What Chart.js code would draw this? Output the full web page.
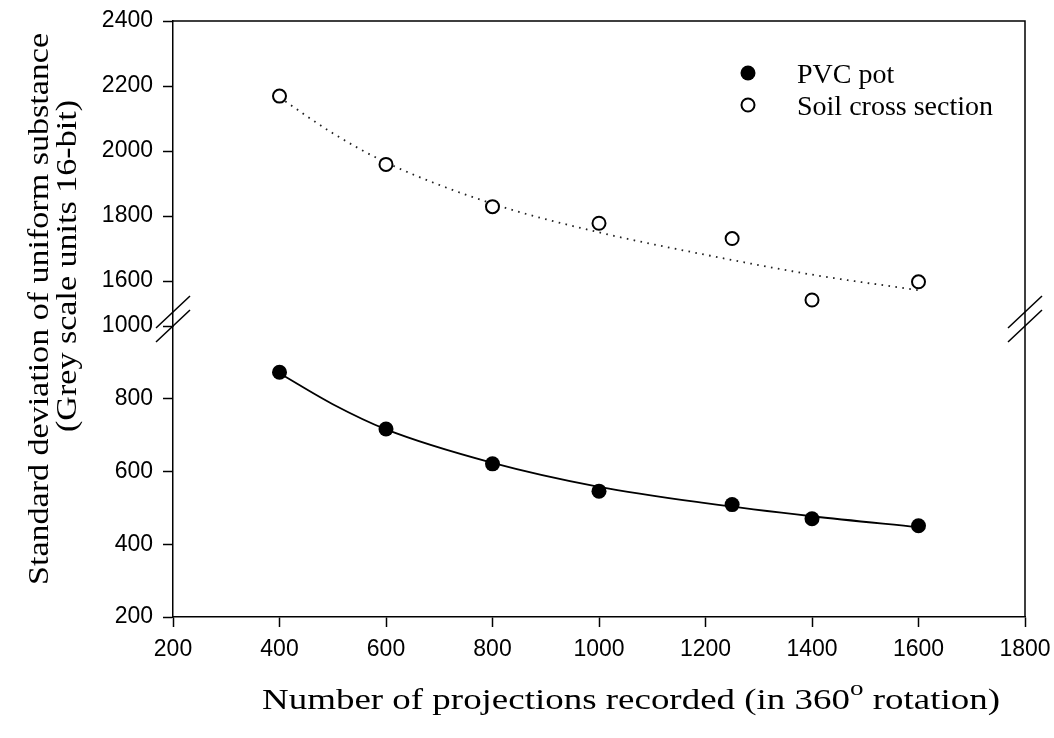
<!DOCTYPE html>
<html>
<head>
<meta charset="utf-8">
<script src="https://cdn.jsdelivr.net/npm/chart.js@4"></script>
<style>
  html, body { margin: 0; padding: 0; background: #fff; }
  #wrap { width: 1054px; height: 738px; }
</style>
</head>
<body>
<div id="wrap"><canvas id="chart" width="1054" height="738"></canvas></div>
<script>
// measured points
const projections = [400, 600, 800, 1000, 1250, 1400, 1600];
const pvcPot = [873, 717, 621, 546, 509, 470, 451];
const soilSection = [2169, 1959, 1829, 1778, 1731, 1542, 1598];

// fitted curves
const fitX = [400, 500, 600, 800, 1000, 1200, 1400, 1600];
const pvcFit = [870, 785, 716, 624, 558, 513, 477, 447];
const soilFit = [2165, 2055, 1965, 1838, 1750, 1681, 1620, 1572];

// axis ranges
const xTicks = [200, 400, 600, 800, 1000, 1200, 1400, 1600, 1800];
const lowTicks = [200, 400, 600, 800, 1000];
const highTicks = [1600, 1800, 2000, 2200, 2400];
const highMin = 1462;

const seriesNames = ['PVC pot', 'Soil cross section'];
const xTitle = ['Number of projections recorded (in 360', 'o', ' rotation)'];
const yTitle = ['Standard deviation of uniform substance', '(Grey scale units 16-bit)'];

const pairs = (xs, ys) => xs.map((x, i) => ({x: x, y: ys[i]}));

const serif = '"Liberation Serif", "Times New Roman", serif';
const sans = '"Liberation Sans", Arial, sans-serif';

function stretchText(ctx, text, x, y, width, align) {
    const w = ctx.measureText(text).width;
    ctx.save();
    ctx.translate(x, y);
    ctx.scale(width / w, 1);
    ctx.textAlign = align || 'center';
    ctx.fillText(text, 0, 0);
    ctx.restore();
}

const decor = {
    id: 'decor',
    afterDraw(chart) {
        const {ctx, chartArea: a, scales} = chart;
        const yb = scales.yLow.top;
        ctx.save();
        ctx.strokeStyle = '#000';
        ctx.lineWidth = 1.5;

        // top and right side of the frame
        ctx.beginPath();
        ctx.moveTo(a.left, a.top);
        ctx.lineTo(a.right, a.top);
        ctx.lineTo(a.right, a.bottom);
        ctx.stroke();

        // axis break marks
        [a.left, a.right].forEach(x => {
            [-14, 0].forEach(dy => {
                ctx.beginPath();
                ctx.moveTo(x - 17, yb + dy + 16);
                ctx.lineTo(x + 17, yb + dy - 16);
                ctx.stroke();
            });
        });

        // legend
        ctx.fillStyle = '#000';
        ctx.beginPath();
        ctx.arc(748, 73, 7.5, 0, Math.PI * 2);
        ctx.fill();
        ctx.beginPath();
        ctx.lineWidth = 2;
        ctx.arc(748, 105, 6.5, 0, Math.PI * 2);
        ctx.stroke();
        ctx.font = '28px ' + serif;
        ctx.textAlign = 'left';
        ctx.textBaseline = 'alphabetic';
        ctx.fillText(seriesNames[0], 797, 83);
        ctx.fillText(seriesNames[1], 797, 115);

        // x title with superscript
        const mainFont = '30px ' + serif;
        const supFont = '22px ' + serif;
        ctx.font = mainFont;
        const w0 = ctx.measureText(xTitle[0]).width;
        const w2 = ctx.measureText(xTitle[2]).width;
        ctx.font = supFont;
        const w1 = ctx.measureText(xTitle[1]).width;
        const total = w0 + w1 + w2;
        const sx = 738 / total;
        ctx.save();
        ctx.translate(262, 709);
        ctx.scale(sx, 1);
        ctx.font = mainFont;
        ctx.fillText(xTitle[0], 0, 0);
        ctx.font = supFont;
        ctx.fillText(xTitle[1], w0, -14);
        ctx.font = mainFont;
        ctx.fillText(xTitle[2], w0 + w1, 0);
        ctx.restore();

        // y title, two lines
        ctx.save();
        ctx.rotate(-Math.PI / 2);
        ctx.font = '30px ' + serif;
        ctx.textBaseline = 'alphabetic';
        stretchText(ctx, yTitle[0], -309, 48, 552);
        stretchText(ctx, yTitle[1], -266, 76, 332);
        ctx.restore();

        ctx.restore();
    }
};

const axisFont = {family: sans, size: 23};

function noPad(s) {
    s.paddingLeft = 0;
    s.paddingRight = 0;
    s.paddingTop = 0;
    s.paddingBottom = 0;
}

new Chart(document.getElementById('chart'), {
    type: 'scatter',
    data: {
        datasets: [
            {
                label: seriesNames[0],
                data: pairs(projections, pvcPot),
                yAxisID: 'yLow',
                showLine: false,
                pointRadius: 7.5,
                pointBackgroundColor: '#000',
                pointBorderColor: '#000',
                pointBorderWidth: 0,
                order: 1
            },
            {
                label: seriesNames[1],
                data: pairs(projections, soilSection),
                yAxisID: 'yHigh',
                showLine: false,
                pointRadius: 6.5,
                pointBackgroundColor: '#fff',
                pointBorderColor: '#000',
                pointBorderWidth: 2,
                order: 2
            },
            {
                label: 'PVC fit',
                data: pairs(fitX, pvcFit),
                yAxisID: 'yLow',
                showLine: true,
                pointRadius: 0,
                borderColor: '#000',
                borderWidth: 1.8,
                cubicInterpolationMode: 'monotone',
                order: 3
            },
            {
                label: 'Soil fit',
                data: pairs(fitX, soilFit),
                yAxisID: 'yHigh',
                showLine: true,
                pointRadius: 0,
                borderColor: '#222',
                borderWidth: 1.8,
                borderDash: [1.6, 5.4],
                cubicInterpolationMode: 'monotone',
                order: 4
            }
        ]
    },
    options: {
        responsive: false,
        animation: false,
        layout: {padding: {top: 21, right: 29, left: 0, bottom: 0}},
        plugins: {
            legend: {display: false},
            tooltip: {enabled: false}
        },
        scales: {
            x: {
                type: 'linear',
                min: xTicks[0],
                max: xTicks[xTicks.length - 1],
                afterBuildTicks: s => { s.ticks = xTicks.map(v => ({value: v})); },
                afterFit: s => { s.height = 121; noPad(s); },
                border: {display: true, color: '#000', width: 1.5},
                grid: {drawOnChartArea: false, drawTicks: true, tickLength: 10, tickColor: '#000', tickWidth: 1.5},
                ticks: {color: '#000', font: axisFont, padding: 9, maxRotation: 0, callback: v => String(v)}
            },
            yLow: {
                type: 'linear',
                position: 'left',
                stack: 'y',
                stackWeight: 291,
                min: lowTicks[0],
                max: lowTicks[lowTicks.length - 1],
                afterBuildTicks: s => { s.ticks = lowTicks.map(v => ({value: v})); },
                afterFit: s => { s.width = 173; noPad(s); },
                border: {display: true, color: '#000', width: 1.5},
                grid: {drawOnChartArea: false, drawTicks: true, tickLength: 10, tickColor: '#000', tickWidth: 1.5},
                ticks: {color: '#000', font: axisFont, padding: 10, callback: v => String(v)}
            },
            yHigh: {
                type: 'linear',
                position: 'left',
                stack: 'y',
                stackWeight: 305,
                min: highMin,
                max: highTicks[highTicks.length - 1],
                afterBuildTicks: s => { s.ticks = highTicks.map(v => ({value: v})); },
                afterFit: s => { s.width = 173; noPad(s); },
                border: {display: true, color: '#000', width: 1.5},
                grid: {drawOnChartArea: false, drawTicks: true, tickLength: 10, tickColor: '#000', tickWidth: 1.5},
                ticks: {color: '#000', font: axisFont, padding: 10, callback: v => String(v)}
            }
        }
    },
    plugins: [decor]
});
</script>
</body>
</html>
